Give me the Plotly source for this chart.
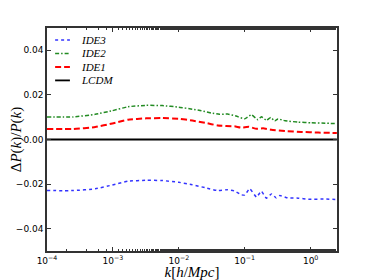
import plotly.graph_objects as go

# ---- data ----
k_ide3 = [0.0001, 0.00025, 0.00054, 0.00098, 0.0017, 0.0032, 0.0056, 0.01, 0.016, 0.025,
          0.039, 0.055, 0.07, 0.089, 0.1, 0.119, 0.151, 0.179, 0.213, 0.254, 0.30, 0.34,
          0.45, 0.65, 0.92, 1.66, 2.5]
ide3 = [-0.0229, -0.0229, -0.0221, -0.0204, -0.0187, -0.0183, -0.0184, -0.0192, -0.0203, -0.0216,
        -0.0229, -0.0225, -0.0231, -0.0248, -0.0249, -0.0221, -0.0258, -0.0232, -0.0263, -0.0244,
        -0.0262, -0.0251, -0.0262, -0.0263, -0.0268, -0.0267, -0.0269]

k_ide2 = [0.0001, 0.00025, 0.00054, 0.00098, 0.0017, 0.0032, 0.0056, 0.01, 0.016, 0.022,
          0.031, 0.041, 0.055, 0.074, 0.1, 0.126, 0.158, 0.179, 0.213, 0.248, 0.285, 0.32,
          0.41, 0.65, 1.03, 1.66, 2.5]
ide2 = [0.0101, 0.0101, 0.0113, 0.0129, 0.0147, 0.0153, 0.0152, 0.0145, 0.0136, 0.0129,
        0.0119, 0.0113, 0.0114, 0.0105, 0.0093, 0.0111, 0.0089, 0.0102, 0.0086, 0.0099, 0.0083, 0.0092,
        0.0084, 0.0078, 0.0075, 0.0073, 0.0071]

k_ide1 = [0.0001, 0.00025, 0.00054, 0.00098, 0.0017, 0.0032, 0.0056, 0.01, 0.016, 0.025,
          0.039, 0.07, 0.089, 0.115, 0.151, 0.19, 0.254, 0.41, 0.72, 1.31, 2.5]
ide1 = [0.0047, 0.0047, 0.0056, 0.0072, 0.0089, 0.0095, 0.0096, 0.0093, 0.0085, 0.0075,
        0.0063, 0.0059, 0.0053, 0.0057, 0.0048, 0.0050, 0.0044, 0.0038, 0.0034, 0.0031, 0.0029]

k_lcdm = [0.0001, 2.5]
lcdm = [0.0, 0.0]

series_names = ["IDE3", "IDE2", "IDE1", "LCDM"]
series_colors = ["#3333ff", "#228b22", "#ff0000", "black"]
series_dash = ["dot", "4px,2px,1.5px,2px", "6px,3px", "solid"]
series_width = [1.5, 1.5, 2, 1.8]

x_tickvals = [0.0001, 0.001, 0.01, 0.1, 1]
x_ticktext = ["10<sup>−4</sup>", "10<sup>−3</sup>", "10<sup>−2</sup>", "10<sup>−1</sup>", "10<sup>0</sup>"]
y_tickvals = [-0.04, -0.02, 0.0, 0.02, 0.04]
y_ticktext = ["−0.04", "−0.02", "0.00", "0.02", "0.04"]

xs = [k_ide3, k_ide2, k_ide1, k_lcdm]
ys = [ide3, ide2, ide1, lcdm]

fig = go.Figure()
for name, x, y, c, d, w in zip(series_names, xs, ys, series_colors, series_dash, series_width):
    shape = "linear" if name == "LCDM" else "spline"
    fig.add_trace(go.Scatter(x=x, y=y, mode="lines", name=name, showlegend=False,
                             line=dict(color=c, width=w, dash=d, shape=shape, smoothing=0.4)))

# manual legend (top-left inside the axes)
leg_x0, leg_x1, leg_tx = 0.028, 0.079, 0.110
leg_rows = [0.946, 0.886, 0.825, 0.765]
for name, c, d, w, ry in zip(series_names, series_colors, series_dash, series_width, leg_rows):
    fig.add_shape(type="line", xref="paper", yref="paper", x0=leg_x0, x1=leg_x1, y0=ry, y1=ry,
                  line=dict(color=c, width=w, dash=d))
    fig.add_annotation(xref="paper", yref="paper", x=leg_tx, y=ry, text=name, showarrow=False,
                       xanchor="left", yanchor="middle",
                       font=dict(family="Liberation Serif", size=11, color="black", style="italic"))

axis_common = dict(showline=True, linecolor="#333333", linewidth=1.5, mirror="ticks",
                   ticks="inside", tickcolor="#333333", showgrid=False, zeroline=False,
                   automargin=False,
                   tickfont=dict(family="DejaVu Sans", size=9, color="black"))

fig.update_xaxes(type="log", range=[-4, 0.4], tickvals=x_tickvals, ticktext=x_ticktext,
                 ticklen=4, minor=dict(ticks="inside", ticklen=2, tickcolor="#333333", showgrid=False),
                 title=dict(text="<i>k</i>[<i>h</i>/<i>Mpc</i>]", standoff=0,
                            font=dict(family="Liberation Serif", size=15, color="black")),
                 **axis_common)
fig.update_yaxes(range=[-0.05, 0.05], tickvals=y_tickvals, ticktext=y_ticktext, ticklen=4,
                 title=dict(text="Δ<i>P</i>(<i>k</i>)/<i>P</i>(<i>k</i>)", standoff=2,
                            font=dict(family="Liberation Serif", size=15, color="black")),
                 **axis_common)

fig.update_layout(width=366, height=272, margin=dict(l=39, r=37, t=20, b=29),
                  plot_bgcolor="white", paper_bgcolor="white", showlegend=False)

fig.write_html("out.html")
